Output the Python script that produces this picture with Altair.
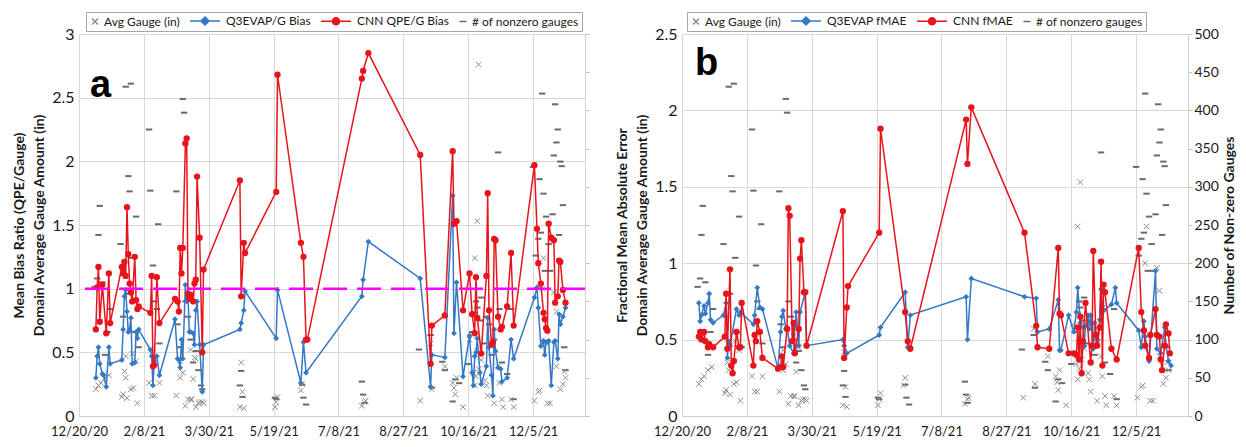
import altair as alt
import pandas as pd

START = "2020-12-20"  # day 0 of the event-day arrays below

# ---------------- Panel a: bias ratio (days since 12/20/20) ----------------
a_day = [13, 14, 15, 16, 18, 19, 21, 23, 24,
         33, 34, 35, 36, 37, 38, 39, 40, 41, 43, 44, 45, 46,
         55, 56, 57, 58, 60, 62,
         74, 76, 77, 78, 79, 80, 82, 83, 84, 85, 86, 88, 89, 90, 91, 93, 95, 96,
         124, 125, 127, 128,
         152, 153,
         171, 173, 175, 176,
         218, 219, 223,
         263,
         271, 272, 282,
         288, 289, 291, 296,
         301, 303, 304, 305, 306, 307, 309, 310,
         314, 315, 316, 318, 319, 320, 321, 323, 325, 326, 330, 333, 335,
         351, 353, 354, 356, 358, 359, 360, 361, 362, 364, 366, 367, 369, 370, 371, 373, 375]
a_cnn = [0.68, 1.01, 1.17, 0.74, 1.03, None, 0.65, 1.12, 0.73,
         1.17, 1.12, 1.21, 1.10, 1.64, 1.27, 1.04, 0.97, 0.90, 1.25, 0.91, 0.84, 0.86,
         0.81, 1.10, 0.39, 0.40, 1.09, 0.73,
         0.92, 0.90, 0.82, 1.32, 1.12, 1.32, 2.14, 2.18, 0.96, 0.92, 0.95, 0.90, 1.04, 1.07, 1.88, 1.40, 0.50, 1.15,
         1.85, 0.94, 1.36, 1.28,
         1.76, 2.68,
         1.36, 1.25, 0.60, 0.60,
         2.65, 2.71, 2.85,
         2.05,
         0.41, 0.71, 0.79,
         2.08, 1.51, 1.53, 0.83,
         1.12, 0.80, None, 0.65, 1.09, 0.77, None, 0.49,
         1.10, 1.75, 0.83, 0.56, 0.58, 1.39, 1.38, 0.78, 0.68, 0.70, 0.86, 1.28, 0.71,
         1.97, 1.47, 1.20, 1.04, 0.81, 0.76, 0.69, 0.67, 1.51, 1.40, 1.38, 0.89, 0.94, 1.22, 1.21, 0.99, 0.89]
a_q3 = [0.30, 0.47, 0.54, 0.41, 0.33, 0.32, 0.23, 0.54, 0.41,
        0.44, 0.68, 0.94, 0.99, 0.82, 0.66, 0.68, 0.77, 0.41, 0.42, 0.66, 0.61, 0.68,
        0.52, 0.47, 0.24, 0.43, 0.47, 0.32,
        0.76, 0.45, 0.44, 0.38, 0.60, 0.45, 1.03, 0.90, 0.95, 0.66, 0.66, 0.65, 0.56, 0.83, 0.90, 0.56, 0.19, 0.56,
        0.68, 0.73, 0.83, 0.98,
        0.61, 0.99,
        0.26, 0.58, 0.34, None,
        0.94, 1.07, 1.37,
        1.08,
        0.23, 0.48, 0.46,
        1.73, 0.65, 1.05, 0.31,
        0.63, 0.34, 0.24, 0.47, 0.50, 0.61, 0.34, 0.25,
        0.39, 0.77, 0.54, 0.32, 0.16, 0.68, 0.51, 0.38, 0.37, 0.27, 0.30, 0.60, 0.45,
        0.93, 1.01, 0.85, 0.55, 0.59, 0.48, 0.58, 0.58, 0.59, 0.24, 0.58, 0.59, 0.45, 0.80, 0.72, 0.78, 0.85]

# ---------------- Panel b: fractional MAE ----------------
b_day = [13, 14, 15, 17, 18, 20, 21, 22, 24,
         32, 33, 34, 35, 36, 37, 38, 39, 40, 42, 44, 45, 46,
         55, 56, 57, 58, 60, 62,
         74, 76, 77, 78, 80, 81, 82, 83, 85, 86, 87, 88, 90, 91, 92, 94, 95, 96,
         124, 125, 127, 128,
         152, 153,
         172, 174, 176,
         219, 220, 223,
         264,
         273, 274, 283,
         290, 291, 292, 298,
         302, 304, 305, 306, 307, 308, 309, 310, 311, 313, 314, 315, 316, 317, 318, 319, 320, 322, 323, 324, 325, 326,
         331, 334, 335,
         352, 354, 356, 357, 360, 361, 365, 366, 368, 369, 370, 372, 373, 375, 376, 377]
b_cnn = [0.52, 0.55, 0.50, 0.55, 0.49, 0.45, 0.47, None, 0.45,
         None, 0.52, 0.80, 0.44, None, 0.96, 0.33, 0.28, 0.36, 0.55, 0.45, 0.45, 0.74,
         0.33, 0.53, 0.49, 0.62, 0.55, 0.38,
         0.31, 0.32, 0.39, 0.32, None, 0.57, 1.36, 1.31, 0.49, 0.61, 0.41, None, 0.57, 1.03, 1.15, 0.81, 0.81, 0.46,
         1.34, 0.38, 0.71, 0.85,
         1.20, 1.88,
         0.68, 0.49, 0.44,
         1.94, 1.65, 2.02,
         1.20,
         0.59, 0.45, 0.44,
         1.10, 0.67, 0.66, 0.41,
         0.41, 0.40, 0.58, 0.37, 0.65, 0.28, 0.49, None, 0.74, None, None, 0.35, 0.46, 1.08, None, 0.53, 0.46, 0.58, 1.01, 0.33, 0.86, 0.81,
         0.44, None, 0.37,
         1.10, 0.68, 0.56, 0.46, 0.38, 0.53, 0.70, 0.53, 0.52, 0.37, 0.30, 0.46, 0.60, 0.54, 0.41, None]
b_q3 = [0.74, 0.62, 0.66, 0.72, 0.67, 0.74, 0.80, 0.63, 0.61,
        0.66, None, 0.74, 0.38, 0.49, 0.46, None, None, None, 0.70, 0.66, 0.68, None,
        0.60, 0.66, None, 0.84, 0.71, 0.70,
        0.31, 0.55, 0.65, 0.69, 0.57, 0.58, None, 0.46, None, 0.41, 0.59, 0.68, 0.46, 0.68, None, None, 0.81, 0.46,
        0.50, 0.46, 0.41, None,
        0.53, 0.58,
        0.81, 0.45, 0.66,
        0.78, 0.50, 0.90,
        0.78,
        0.77, 0.55, 0.57,
        0.76, 0.43, 0.43, 0.66,
        0.55, 0.68, 0.84, None, 0.61, None, 0.58, 0.46, 0.59, 0.66, 0.57, 0.66, None, 0.44, 0.61, None, 0.48, 0.63, 0.83, 0.72, 0.69, None,
        0.73, 0.84, 0.74,
        0.56, 0.45, 0.62, 0.52, 0.36, None, 0.95, 0.44, None, 0.41, None, 0.58, 0.46, 0.36, None, 0.33]

# ---------------- Shared: domain average gauge (in) ----------------
g_day = [13, 15, 17, 20, 23,
         33, 34, 35, 36, 36, 37, 40, 41, 42, 44, 45,
         54, 56, 58, 62,
         75, 78, 78, 80, 82, 84, 86, 86, 87, 88, 89, 90, 90, 92, 93, 95, 96,
         124, 125, 126, 127,
         151, 152, 153,
         171, 172,
         218, 220, 221,
         263,
         271, 272, 282,
         288, 289, 290, 291, 296,
         301, 304, 305, 305, 306, 307, 307, 308, 308, 310, 313, 314, 315,
         320, 323, 324, 326, 327, 333, 335,
         351, 354, 355, 357, 358, 361, 363, 366, 368, 368, 371, 373, 374, 375]
g_val = [0.21, 0.24, 0.26, 0.30, 0.32,
         0.15, 0.17, 0.35, 0.30, 0.47, 0.14, 0.21, 0.49, 0.22, 0.43, 0.10,
         0.26, 0.16, 0.16, 0.26,
         0.16, 0.30, 0.43, 0.34, 0.08, 0.13, 0.13, 0.52, 0.13, 0.29, 0.46, 0.07, 0.45, 0.10, 0.11, 0.11, 0.10,
         0.07, 0.42, 0.19, 0.06,
         0.07, 0.11, 0.15,
         0.20, 0.25,
         0.08, 0.11, 0.12,
         0.12,
         0.57, 0.21, 0.39,
         0.26, 0.22, 0.17, 0.30, 0.07,
         0.60, 0.34, 1.24, 0.24, 0.31, 1.53, 0.51, 2.76, 0.37, 0.44, 0.28, 0.24, 0.16,
         0.10, 0.39, 0.26, 0.13, 0.07, 0.13, 0.07,
         0.12, 0.19, 0.20, 1.00, 1.24, 0.10, 0.10, 0.97, 0.39, 0.82, 0.21, 0.25, 0.35, 0.30]

# ---------------- Shared: number of nonzero gauges ----------------
n_day = [12, 14, 15, 16, 18, 20, 22, 24,
         32, 34, 36, 37, 38, 39, 40, 41, 42, 44, 46,
         54, 55, 57, 58, 60, 61, 62,
         75, 76, 78, 80, 81, 82, 84, 86, 88, 90, 92, 94, 95,
         124, 125, 126,
         151, 152,
         172, 173, 175,
         218, 219, 220,
         262,
         271, 272, 280, 282,
         288, 290, 293,
         300, 303, 305, 306, 307, 309, 310, 312, 314, 316, 318, 320, 323, 324, 326, 330, 333, 335,
         350, 352, 354, 355, 356, 357, 358, 359, 360, 362, 363, 365, 366, 367, 368, 369, 370, 371, 372, 373, 374, 375]
n_val = [169, 180, 237, 275, 175, 80, 110, 140,
         225, 130, 431, 160, 314, 294, 435, 207, 110, 261, 90,
         375, 295, 197, 150, 140, 251, 95,
         294, 120, 90, 415, 397, 150, 130, 100, 70, 85, 60, 40, 35,
         40, 59, 25,
         24, 22,
         41, 24, 15,
         45, 28, 17,
         87,
         106, 37, 71, 60,
         19, 48, 43,
         68, 110, 135, 150, 142, 125, 155, 95, 130, 120, 80, 100, 345, 140, 70, 55, 140, 22,
         326, 210, 232, 310, 240, 422, 291, 190, 261, 225, 190, 264, 341, 408, 358, 375, 237, 333, 327, 276, 90, 60]

x_tick_dates = ["2020-12-20", "2021-02-08", "2021-03-30", "2021-05-19",
                "2021-07-08", "2021-08-27", "2021-10-16", "2021-12-05"]
x_end = "2022-01-14"

# ---------------- styling ----------------
FONT = "Lato"
GREY_X = "#8c8c8c"
GREY_DASH = "#6a6a6a"
BLUE = "#3478C6"
RED = "#E8141C"
MAGENTA = "#FF00FF"
X_PATH = "M-1,-1L1,1M-1,1L1,-1"
DASH_PATH = "M-1,0L1,0"
LEG_X = "M-0.6,-0.6L0.6,0.6M-0.6,0.6L0.6,-0.6"
LEG_DIAMOND = "M-5.4,0L0.6,0M-2.4,-0.8L-1.6,0L-2.4,0.8L-3.2,0Z"
LEG_CIRCLE = "M-5.4,0L0.6,0M-3.1,0A0.7,0.7,0,1,1,-1.7,0A0.7,0.7,0,1,1,-3.1,0Z"
LEG_DASH = "M-0.7,0L0.7,0"

PW = 506   # plot width of each panel
PH = 382   # plot height of each panel


def to_dates(days):
    return (pd.Timestamp(START) + pd.to_timedelta(days, unit="D")).strftime("%Y-%m-%d")


def dt(s):
    y, m, d = (int(v) for v in s.split("-"))
    return alt.DateTime(year=y, month=m, date=d, utc=True)


x_scale = alt.Scale(type="utc", domain=[dt(x_tick_dates[0]), dt(x_end)], nice=False)
x_axis = alt.Axis(values=[dt(s) for s in x_tick_dates],
                  labelExpr="utcFormat(datum.value, '%-m/%-d/%y')",
                  grid=True, ticks=False, domain=True, labelFontSize=13,
                  labelPadding=9, title=None, labelFlush=False)
X = alt.X("date:T", scale=x_scale, axis=x_axis)


def panel(day, q3, cnn, q3_name, cnn_name, ymax, ytitle, letter, letter_x, letter_y,
          right_labels, show_rule, leg_x):
    names = ["Avg Gauge (in)", q3_name, cnn_name, "# of nonzero gauges"]
    q3_df = pd.DataFrame({"date": to_dates(day), "value": q3}).dropna()
    cnn_df = pd.DataFrame({"date": to_dates(day), "value": cnn}).dropna()
    g_df = pd.DataFrame({"date": to_dates(g_day), "value": g_val})
    g_df = g_df[g_df["value"] <= ymax]
    n_df = pd.DataFrame({"date": to_dates(n_day), "n": n_val})

    ticks = [i * 0.5 for i in range(int(ymax / 0.5) + 1)]
    y_axis = alt.Axis(values=ticks, labelExpr="datum.value + ''", orient="left",
                      grid=True, ticks=False, domain=False, labelFontSize=16,
                      labelPadding=5, title=ytitle, titleFontSize=14,
                      titleFontWeight="bold", titlePadding=5, titleLineHeight=20)
    Y = alt.Y("value:Q", scale=alt.Scale(domain=[0, ymax], nice=False), axis=y_axis)

    gauge = alt.Chart(g_df).mark_point(shape=X_PATH, size=30, color=GREY_X,
                                       strokeWidth=1, opacity=1).encode(x=X, y=Y)
    q3_line = alt.Chart(q3_df).mark_line(color=BLUE, strokeWidth=1.5).encode(x=X, y=Y)
    q3_pts = alt.Chart(q3_df).mark_point(shape="diamond", filled=True, size=34,
                                         color=BLUE, opacity=1).encode(x=X, y=Y)
    cnn_line = alt.Chart(cnn_df).mark_line(color=RED, strokeWidth=1.5).encode(x=X, y=Y)
    cnn_pts = alt.Chart(cnn_df).mark_circle(size=40, color=RED, opacity=1).encode(x=X, y=Y)

    leg_df = pd.DataFrame({"series": names})
    legend = alt.Legend(orient="none", legendX=leg_x, legendY=-22, direction="horizontal",
                        columns=4, title=None, labelFont=FONT, labelFontSize=12,
                        labelColor="#1a1a1a", symbolSize=100, symbolStrokeWidth=1.5,
                        labelOffset=3, columnPadding=7, padding=3,
                        strokeColor="#a6a6a6", fillColor="white")
    fill_sc = alt.Scale(domain=names, range=["transparent", BLUE, RED, "transparent"])
    stroke_sc = alt.Scale(domain=names, range=[GREY_X, BLUE, RED, GREY_DASH])
    shape_sc = alt.Scale(domain=names, range=[LEG_X, LEG_DIAMOND, LEG_CIRCLE, LEG_DASH])
    leg_layer = alt.Chart(leg_df).transform_filter("datum.series == 'none'").mark_point(
        opacity=1, strokeWidth=1.5).encode(
        fill=alt.Fill("series:N", scale=fill_sc, legend=legend),
        stroke=alt.Stroke("series:N", scale=stroke_sc, legend=legend),
        shape=alt.Shape("series:N", scale=shape_sc, legend=legend),
    )

    letter_layer = alt.Chart(pd.DataFrame({"t": [letter]})).mark_text(
        font="Liberation Sans", fontWeight="bold", fontSize=38, align="left",
        baseline="alphabetic", color="black").encode(
        text="t:N", x=alt.value(letter_x), y=alt.value(letter_y))

    layers = [gauge, q3_line, q3_pts, cnn_line, cnn_pts]
    if show_rule:
        rule = alt.Chart(pd.DataFrame({"value": [1.0]})).mark_rule(
            color=MAGENTA, strokeWidth=2.5, strokeDash=[24, 10]).encode(y=Y)
        layers.append(rule)
    layers += [leg_layer, letter_layer]
    primary = alt.layer(*layers)

    right_axis = alt.Axis(values=list(range(0, 501, 50)), orient="right", grid=False,
                          labels=right_labels, ticks=True, tickSize=4, domain=True,
                          labelFontSize=14, labelPadding=2,
                          title="Number of Non-zero Gauges" if right_labels else None,
                          titleFontSize=14, titleFontWeight="bold", titleAngle=270,
                          titleBaseline="top", titlePadding=4)
    secondary = alt.Chart(n_df).mark_point(shape=DASH_PATH, size=40, color=GREY_DASH,
                                           strokeWidth=2, opacity=1).encode(
        x=X, y=alt.Y("n:Q", scale=alt.Scale(domain=[0, 500], nice=False), axis=right_axis))

    return alt.layer(secondary, primary).resolve_scale(y="independent").properties(
        width=PW, height=PH)


left = panel(a_day, a_q3, a_cnn, "Q3EVAP/G Bias", "CNN QPE/G Bias", 3,
             ["Mean Bias Ratio (QPE/Gauge)", "Domain Average Gauge Amount (in)"],
             "a", 11, 63, False, True, 7)
right = panel(b_day, b_q3, b_cnn, "Q3EVAP fMAE", "CNN fMAE", 2.5,
              ["Fractional Mean Absolute Error", "Domain Average Gauge Amount (in)"],
              "b", 13, 41, True, False, 5)

chart = alt.hconcat(left, right, spacing=25).resolve_scale(
    fill="independent", stroke="independent", shape="independent"
).resolve_legend(
    fill="independent", stroke="independent", shape="independent"
).configure_axis(
    labelFont=FONT, titleFont=FONT, gridColor="#d9d9d9", domainColor="#d0d0d0",
    tickColor="#c0c0c0", labelColor="#1a1a1a", titleColor="#1a1a1a"
).configure_view(stroke=None).properties(
    background="white",
    padding={"left": 4, "right": 0, "top": 3, "bottom": 0},
)

chart.save("out.html", embed_options={"renderer": "svg", "actions": False})
